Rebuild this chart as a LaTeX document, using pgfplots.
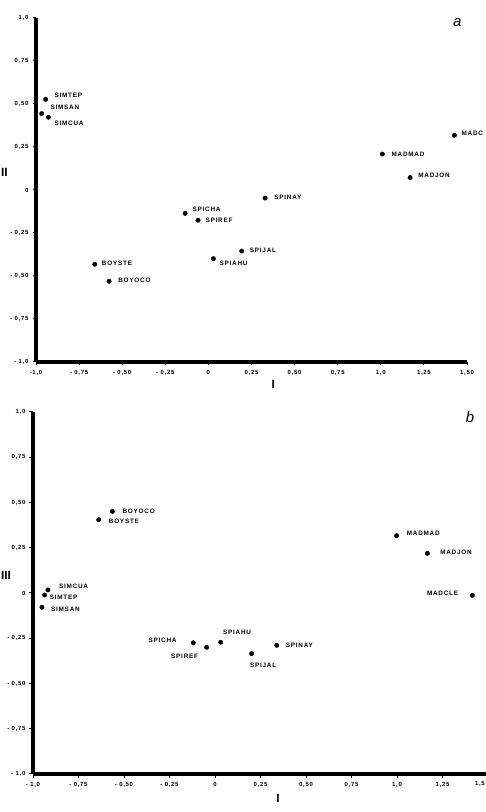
\documentclass[border=0pt]{standalone}
\usepackage{fontspec}
\setmainfont{Liberation Sans}
\newfontfamily\labfont[LetterSpace=12]{Liberation Sans}
\usepackage{pgfplots}
\pgfplotsset{compat=1.18}

\tikzset{
  lab/.style={font=\labfont\bfseries\fontsize{6.4}{7}\selectfont, inner sep=0pt},
  pt/.style={only marks, mark=*, mark size=2.2bp, black, mark options={solid, fill=black}},
}
\pgfplotsset{
  ordplot/.style={
    scale only axis,
    clip=false,
    xmin=-1, xmax=1.5, ymin=-1, ymax=1,
    axis x line=bottom, axis y line=left,
    axis line style={-},
    every outer x axis line/.append style={line width=3.2bp},
    every outer y axis line/.append style={line width=3.2bp},
    every inner x axis line/.append style={line width=3.2bp},
    every inner y axis line/.append style={line width=3.2bp},
    tick align=outside,
    major tick length=3.5bp,
    tick style={black, line width=1bp},
    xtick={-1,-0.75,-0.5,-0.25,0,0.25,0.5,0.75,1,1.25,1.5},
    ytick={-1,-0.75,-0.5,-0.25,0,0.25,0.5,0.75,1},
    yticklabels={{- 1,0},{- 0,75},{- 0,50},{- 0,25},0,{0,25},{0,50},{0,75},{1,0}},
    ticklabel style={font=\labfont\bfseries\fontsize{6}{7}\selectfont},
    xticklabel style={yshift=-1bp},
    yticklabel style={xshift=-0.5bp},
  },
}

\begin{document}
\begin{tikzpicture}[x=1bp,y=1bp]
\useasboundingbox (0,0) rectangle (486,812);

% ---- panel a: axes I and II ----
\begin{axis}[ordplot,
  at={(36bp,450bp)}, anchor=south west,
  width=431bp, height=344bp,
  xticklabels={{-1,0},{- 0,75},{- 0,50},{- 0,25},0,{0,25},{0,50},{0,75},{1,0},{1,25},{1,50}},
]
\addplot[pt] coordinates {
  (-0.944,0.527) (-0.967,0.444) (-0.928,0.423)
  (-0.135,-0.136) (-0.060,-0.176)
  (-0.659,-0.432) (-0.576,-0.531)
  (0.029,-0.399) (0.193,-0.355) (0.329,-0.047)
  (1.427,0.318) (1.009,0.209) (1.170,0.072)
};
\node[lab,anchor=west,xshift=8.7bp,yshift=4bp]   at (axis cs:-0.944,0.527) {SIMTEP};
\node[lab,anchor=west,xshift=8.7bp,yshift=6.7bp] at (axis cs:-0.967,0.444) {SIMSAN};
\node[lab,anchor=west,xshift=6bp,yshift=-5.7bp]  at (axis cs:-0.928,0.423) {SIMCUA};
\node[lab,anchor=west,xshift=7.3bp,yshift=4.3bp] at (axis cs:-0.135,-0.136) {SPICHA};
\node[lab,anchor=west,xshift=7.3bp]              at (axis cs:-0.060,-0.176) {SPIREF};
\node[lab,anchor=west,xshift=7bp,yshift=1bp]     at (axis cs:-0.659,-0.432) {BOYSTE};
\node[lab,anchor=west,xshift=9bp,yshift=1bp]     at (axis cs:-0.576,-0.531) {BOYOCO};
\node[lab,anchor=west,xshift=6bp,yshift=-4.3bp]  at (axis cs:0.029,-0.399) {SPIAHU};
\node[lab,anchor=west,xshift=8bp,yshift=1bp]     at (axis cs:0.193,-0.355) {SPIJAL};
\node[lab,anchor=west,xshift=9bp,yshift=1bp]     at (axis cs:0.329,-0.047) {SPINAY};
\node[lab,anchor=west,xshift=7bp,yshift=2bp]     at (axis cs:1.427,0.318) {MADC};
\node[lab,anchor=west,xshift=9bp]                at (axis cs:1.009,0.209) {MADMAD};
\node[lab,anchor=west,xshift=8bp,yshift=2bp]     at (axis cs:1.170,0.072) {MADJON};
\node[font=\bfseries\fontsize{12}{13}\selectfont] at (axis cs:-1.183,0.1) {II};
\node[font=\bfseries\fontsize{12}{13}\selectfont] at (axis cs:0.377,-1.128) {I};
\node[font=\itshape\fontsize{15}{16}\selectfont] at (axis cs:1.444,0.971) {a};
\end{axis}

% ---- panel b: axes I and III ----
\begin{axis}[ordplot,
  at={(33bp,38bp)}, anchor=south west,
  width=455bp, height=362bp,
  xticklabels={{- 1,0},{- 0,75},{- 0,50},{- 0,25},0,{0,25},{0,50},{0,75},{1,0},{1,25},{}},
]
\addplot[pt] coordinates {
  (-0.564,0.451) (-0.639,0.405)
  (-0.918,0.017) (-0.936,-0.011) (-0.951,-0.079)
  (-0.119,-0.275) (-0.046,-0.300) (0.031,-0.272)
  (0.201,-0.335) (0.339,-0.289)
  (0.998,0.317) (1.167,0.219) (1.414,-0.013)
};
\node[lab,anchor=west,xshift=10bp]               at (axis cs:-0.564,0.451) {BOYOCO};
\node[lab,anchor=west,xshift=10bp,yshift=-2bp]   at (axis cs:-0.639,0.405) {BOYSTE};
\node[lab,anchor=west,xshift=11bp,yshift=4bp]    at (axis cs:-0.918,0.017) {SIMCUA};
\node[lab,anchor=west,xshift=5bp,yshift=-2bp]    at (axis cs:-0.936,-0.011) {SIMTEP};
\node[lab,anchor=west,xshift=9bp,yshift=-2bp]    at (axis cs:-0.951,-0.079) {SIMSAN};
\node[lab,anchor=east,xshift=-16.6bp,yshift=2bp] at (axis cs:-0.119,-0.275) {SPICHA};
\node[lab,anchor=center,xshift=-22bp,yshift=-8.7bp] at (axis cs:-0.046,-0.300) {SPIREF};
\node[lab,anchor=west,xshift=2.3bp,yshift=10bp]  at (axis cs:0.031,-0.272) {SPIAHU};
\node[lab,anchor=west,xshift=-1.7bp,yshift=-11.3bp] at (axis cs:0.201,-0.335) {SPIJAL};
\node[lab,anchor=west,xshift=9bp]                at (axis cs:0.339,-0.289) {SPINAY};
\node[lab,anchor=west,xshift=10bp,yshift=2bp]    at (axis cs:0.998,0.317) {MADMAD};
\node[lab,anchor=west,xshift=12.7bp,yshift=1bp]  at (axis cs:1.167,0.219) {MADJON};
\node[lab,anchor=east,xshift=-14bp,yshift=2bp]   at (axis cs:1.414,-0.013) {MADCLE};
\node[font=\bfseries\fontsize{12}{13}\selectfont] at (axis cs:-1.148,0.1) {III};
\node[font=\bfseries\fontsize{12}{13}\selectfont] at (axis cs:0.346,-1.133) {I};
\node[font=\itshape\fontsize{15}{16}\selectfont] at (axis cs:1.401,0.972) {b};
\end{axis}
% last tick label of panel b, kept inside the page edge
\node[font=\labfont\bfseries\fontsize{6}{7}\selectfont, anchor=north east, inner sep=0pt]
  at (485,31) {1,5};
\end{tikzpicture}
\end{document}
